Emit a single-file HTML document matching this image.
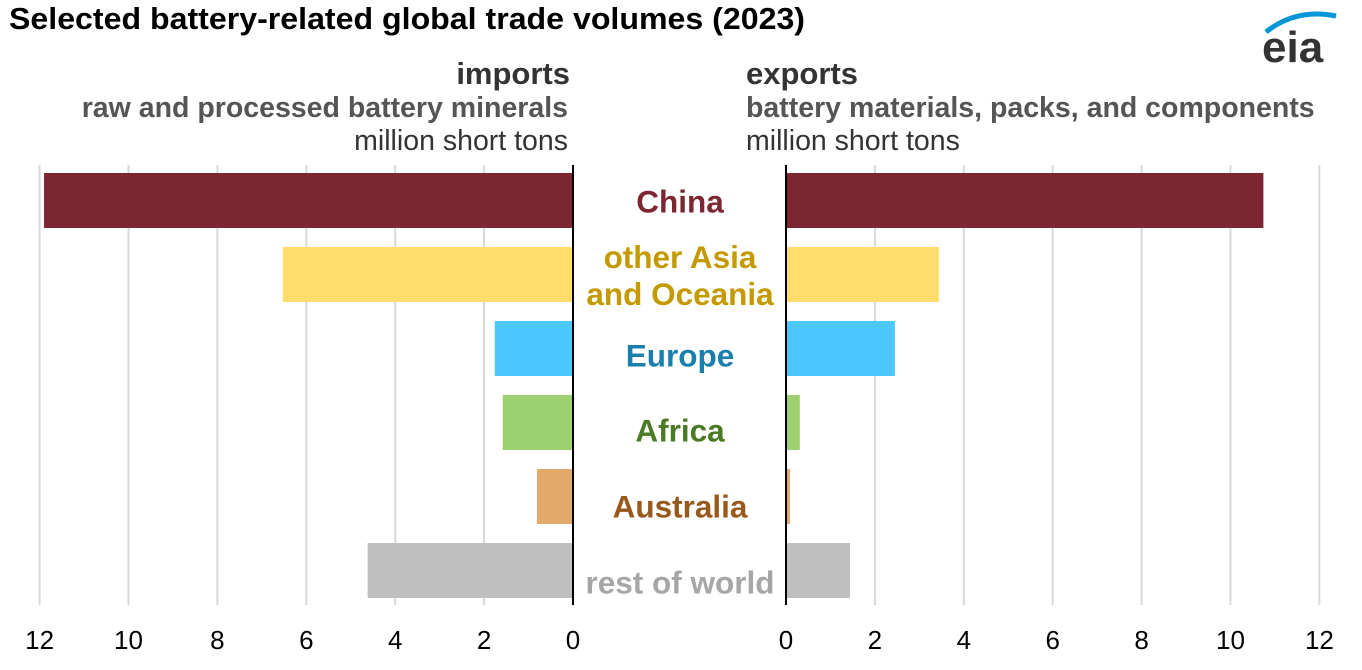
<!DOCTYPE html>
<html><head><meta charset="utf-8"><style>
body{margin:0;background:#fff;font-family:"Liberation Sans",Arial,sans-serif;}
svg text{font-family:"Liberation Sans",Arial,sans-serif;}
</style></head><body>
<svg id="c" width="1362" height="665" viewBox="0 0 1362 665">
<text x="9" y="29" font-size="31" font-weight="bold" fill="#000" textLength="796" lengthAdjust="spacingAndGlyphs">Selected battery-related global trade volumes (2023)</text>
<g>
<path d="M1266 32 Q1296 8 1336 16" stroke="#0096D7" stroke-width="5" fill="none"/>
<text x="1262" y="62" font-size="44" font-weight="bold" fill="#333">eia</text>
</g>
<text x="570" y="84" text-anchor="end" font-size="31" font-weight="bold" fill="#333">imports</text>
<text x="568" y="117" text-anchor="end" font-size="28.5" font-weight="bold" fill="#555">raw and processed battery minerals</text>
<text x="568" y="150" text-anchor="end" font-size="28.5" fill="#333">million short tons</text>
<text x="746" y="84" font-size="31" font-weight="bold" fill="#333">exports</text>
<text x="746" y="117" font-size="28.5" font-weight="bold" fill="#555">battery materials, packs, and components</text>
<text x="746" y="150" font-size="28.5" fill="#333">million short tons</text>
<g id="g"></g>
</svg>
<script>
const regions=["China","other Asia|and Oceania","Europe","Africa","Australia","rest of world"];
const imports=[11.9,6.53,1.76,1.58,0.81,4.62];
const exportsV=[10.74,3.44,2.45,0.31,0.09,1.44];
const ticks=[0,2,4,6,8,10,12];
const barColors=["#7B2631","#FFDC6B","#4DC8FF","#9DD170","#E3A96B","#BFBFBF"];
const labelColors=["#7B2631","#C49A00","#1A7FAD","#4A7A23","#97591C","#A6A6A6"];
const labelShift=[0,0,6,7,9,11];
const NS="http://www.w3.org/2000/svg";
const g=document.getElementById('g');
const L0=573,R0=786,sc=44.45,top0=173,pitch=74,bh=55,gy0=165,gy1=605;
const xl=v=>L0-v*sc, xr=v=>R0+v*sc, yb=i=>top0+i*pitch;
function el(t,a){const e=document.createElementNS(NS,t);for(const k in a)e.setAttribute(k,a[k]);g.appendChild(e);return e;}
ticks.forEach(t=>{
 if(t>0){
 let l=el('line',{x1:xl(t),x2:xl(t),y1:gy0,y2:gy1,stroke:'#d9d9d9','stroke-width':2});
 
 
 let r=el('line',{x1:xr(t),x2:xr(t),y1:gy0,y2:gy1,stroke:'#d9d9d9','stroke-width':2});
 
 
 }
 let a=el('text',{x:xl(t),y:649,'text-anchor':'middle','font-size':26,fill:'#000'});a.textContent=t;
 
 
 let b=el('text',{x:xr(t),y:649,'text-anchor':'middle','font-size':26,fill:'#000'});b.textContent=t;
 
 
});
regions.forEach((r,i)=>{
 let a=el('rect',{x:xl(imports[i]),y:yb(i),width:imports[i]*sc,height:bh,fill:barColors[i]});
 
 
 let b=el('rect',{x:R0,y:yb(i),width:exportsV[i]*sc,height:bh,fill:barColors[i]});
 
 
 const parts=r.split('|');
 const cy=yb(i)+bh/2+12+labelShift[i];
 parts.forEach((p,j)=>{
  let t=el('text',{x:680,y:cy+(j-(parts.length-1)/2)*37,'text-anchor':'middle','font-size':31.5,'font-weight':'bold',fill:labelColors[i]});
  t.textContent=p;
  
  
 });
});
let a1=el('line',{x1:L0,x2:L0,y1:gy0,y2:gy1,stroke:'#000','stroke-width':2});


let a2=el('line',{x1:R0,x2:R0,y1:gy0,y2:gy1,stroke:'#000','stroke-width':2});


</script>
</body></html>
